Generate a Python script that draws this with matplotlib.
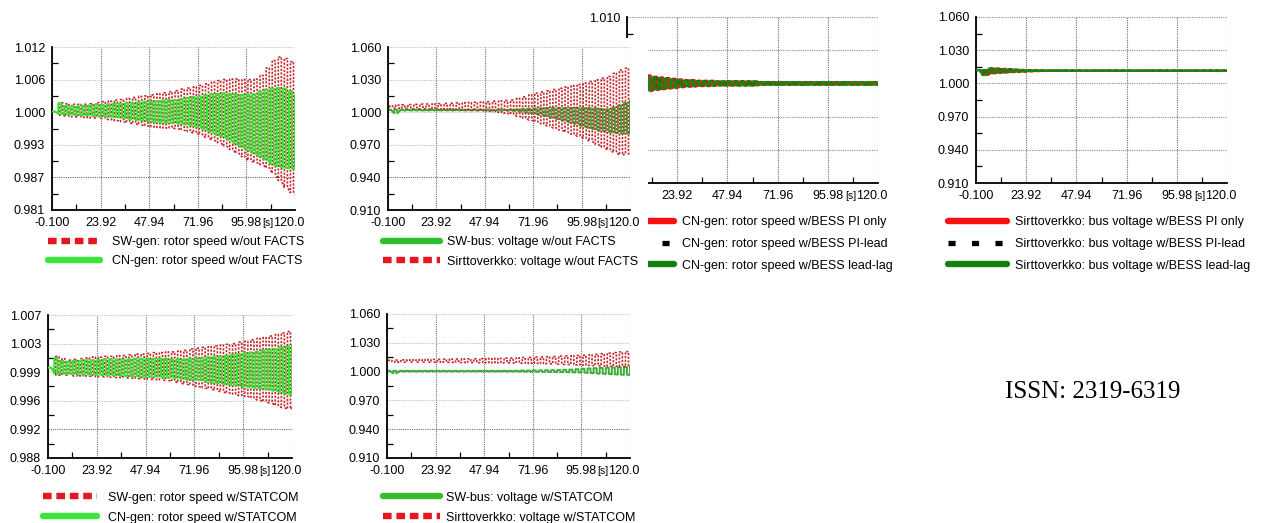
import numpy as np
import matplotlib
matplotlib.use("Agg")
import matplotlib.pyplot as plt
from matplotlib.lines import Line2D
from matplotlib.ticker import AutoMinorLocator
import matplotlib.transforms as mtrans

W, H = 1270, 523
plt.rcParams['font.family'] = ['Liberation Sans', 'DejaVu Sans']

# ---------------------------------------------------------------- data
# times (s) of the oscillation peaks; each trough follows half a cycle later
PEAK_T = np.arange(0, 121, 3.0)
HALF = 1.5
X_TICKS = [-0.1, 23.92, 47.94, 71.96, 95.98, 120.0]
X_LABELS = ['-0.100', '23.92', '47.94', '71.96', '95.98', '120.0']

Y1_LABELS = ['0.981', '0.987', '0.993', '1.000', '1.006', '1.012']
Y2_LABELS = ['0.910', '0.940', '0.970', '1.000', '1.030', '1.060']
Y3_LABELS = ['0.985', '0.990', '0.995', '1.000', '1.005', '1.010']
Y4_LABELS = ['0.910', '0.940', '0.970', '1.000', '1.030', '1.060']
Y5_LABELS = ['0.988', '0.992', '0.996', '0.999', '1.003', '1.007']
Y6_LABELS = ['0.910', '0.940', '0.970', '1.000', '1.030', '1.060']

# Panel 1: rotor speed w/out FACTS (peak / trough envelopes)
P1_SW_UP = [0.9997, 1.0014, 1.0012, 1.0011, 1.0011, 1.0011, 1.0012, 1.0014, 1.0016, 1.0017,
            1.0019, 1.0020, 1.0022, 1.0024, 1.0026, 1.0027, 1.0029, 1.0031, 1.0033, 1.0035,
            1.0037, 1.0040, 1.0042, 1.0044, 1.0047, 1.0050, 1.0053, 1.0056, 1.0058, 1.0059,
            1.0059, 1.0058, 1.0058, 1.0059, 1.0066, 1.0080, 1.0094, 1.0101, 1.0098, 1.0092,
            1.0085]
P1_SW_LO = [0.9997, 0.9990, 0.9988, 0.9987, 0.9987, 0.9986, 0.9985, 0.9985, 0.9984, 0.9982,
            0.9980, 0.9978, 0.9976, 0.9974, 0.9972, 0.9970, 0.9968, 0.9967, 0.9966, 0.9966,
            0.9965, 0.9962, 0.9959, 0.9956, 0.9953, 0.9948, 0.9943, 0.9938, 0.9932, 0.9925,
            0.9918, 0.9911, 0.9904, 0.9900, 0.9896, 0.9890, 0.9880, 0.9866, 0.9853, 0.9843,
            0.9839]
P1_CN_UP = [0.9997, 1.0013, 1.0008, 1.0007, 1.0007, 1.0008, 1.0009, 1.0010, 1.0010, 1.0011,
            1.0012, 1.0012, 1.0013, 1.0014, 1.0015, 1.0016, 1.0016, 1.0017, 1.0018, 1.0019,
            1.0019, 1.0021, 1.0023, 1.0025, 1.0026, 1.0028, 1.0030, 1.0031, 1.0032, 1.0031,
            1.0030, 1.0029, 1.0029, 1.0030, 1.0035, 1.0039, 1.0041, 1.0042, 1.0041, 1.0036,
            1.0029]
P1_CN_LO = [0.9997, 0.9993, 0.9992, 0.9991, 0.9991, 0.9990, 0.9990, 0.9989, 0.9989, 0.9988,
            0.9987, 0.9986, 0.9984, 0.9983, 0.9981, 0.9980, 0.9978, 0.9977, 0.9976, 0.9976,
            0.9975, 0.9974, 0.9972, 0.9970, 0.9967, 0.9963, 0.9958, 0.9953, 0.9949, 0.9943,
            0.9936, 0.9930, 0.9924, 0.9918, 0.9912, 0.9906, 0.9897, 0.9893, 0.9890, 0.9889,
            0.9889]

# Panel 2: bus voltage w/out FACTS
P2_SW_UP = [1.0023, 1.0023, 1.0023, 1.0023, 1.0023, 1.0023, 1.0023, 1.0023, 1.0023, 1.0023,
            1.0023, 1.0023, 1.0023, 1.0023, 1.0023, 1.0023, 1.0023, 1.0023, 1.0023, 1.0023,
            1.0023, 1.0025, 1.0028, 1.0031, 1.0034, 1.0036, 1.0037, 1.0038, 1.0039, 1.0040,
            1.0040, 1.0040, 1.0040, 1.0038, 1.0035, 1.0030, 1.0025, 1.0040, 1.0060, 1.0085,
            1.0110]
P2_SW_LO = [1.0019, 0.9990, 1.0016, 1.0016, 1.0016, 1.0016, 1.0016, 1.0016, 1.0016, 1.0016,
            1.0016, 1.0016, 1.0016, 1.0016, 1.0016, 1.0016, 1.0016, 1.0016, 1.0016, 1.0016,
            1.0014, 1.0010, 1.0003, 0.9995, 0.9985, 0.9975, 0.9963, 0.9950, 0.9935, 0.9920,
            0.9905, 0.9890, 0.9870, 0.9855, 0.9842, 0.9830, 0.9820, 0.9812, 0.9806, 0.9805,
            0.9805]
P2_SI_UP = [1.0058, 1.0066, 1.0068, 1.0070, 1.0072, 1.0074, 1.0075, 1.0077, 1.0079, 1.0081,
            1.0083, 1.0085, 1.0087, 1.0089, 1.0091, 1.0094, 1.0097, 1.0101, 1.0104, 1.0108,
            1.0112, 1.0127, 1.0142, 1.0158, 1.0174, 1.0186, 1.0197, 1.0209, 1.0220, 1.0232,
            1.0244, 1.0255, 1.0267, 1.0282, 1.0297, 1.0313, 1.0328, 1.0358, 1.0388, 1.0404,
            1.0419]
P2_SI_LO = [1.0042, 1.0036, 1.0035, 1.0034, 1.0032, 1.0031, 1.0030, 1.0029, 1.0027, 1.0026,
            1.0024, 1.0023, 1.0021, 1.0019, 1.0017, 1.0015, 1.0012, 1.0006, 0.9998, 0.9990,
            0.9982, 0.9962, 0.9945, 0.9928, 0.9912, 0.9893, 0.9874, 0.9855, 0.9836, 0.9817,
            0.9798, 0.9779, 0.9760, 0.9733, 0.9706, 0.9679, 0.9652, 0.9629, 0.9606, 0.9615,
            0.9625]

# Panel 3: CN-gen rotor speed w/BESS
P3_PI_UP = [1.0000, 1.0014, 1.0013, 1.0012, 1.0010, 1.0009, 1.0008, 1.0007, 1.0006, 1.0005,
            1.0005, 1.0004, 1.0004, 1.0004, 1.0003, 1.0003, 1.0003, 1.0003, 1.0003, 1.0003,
            1.0003] + [1.0002] * 20
P3_PI_LO = [1.0000, 0.9986, 0.9987, 0.9988, 0.9990, 0.9991, 0.9992, 0.9993, 0.9994, 0.9995,
            0.9995, 0.9996, 0.9996, 0.9996, 0.9997, 0.9997, 0.9997, 0.9997, 0.9997, 0.9997,
            0.9997] + [0.9998] * 20
P3_LL_UP = [1.0000, 1.0012, 1.0011, 1.0010, 1.0009, 1.0008, 1.0007, 1.0006, 1.0005, 1.0004,
            1.0004] + [1.0003] * 10 + [1.0002] * 20
P3_LL_LO = [1.0000, 0.9988, 0.9989, 0.9990, 0.9991, 0.9992, 0.9993, 0.9994, 0.9995, 0.9996,
            0.9996] + [0.9997] * 10 + [0.9998] * 20
P3_PL_UP = P3_LL_UP   # PI-lead trace coincides with lead-lag
P3_PL_LO = P3_LL_LO

# Panel 4: Sirttoverkko bus voltage w/BESS
P4_PI_UP = [1.0120, 1.0120, 1.0136, 1.0134, 1.0131, 1.0128, 1.0125, 1.0122, 1.0120, 1.0119,
            1.0118] + [1.0117] * 30
P4_PI_LO = [1.0120, 1.0074, 1.0090, 1.0094, 1.0098, 1.0101, 1.0104, 1.0107, 1.0109, 1.0111,
            1.0112] + [1.0113] * 30
P4_LL_UP = [1.0120, 1.0120, 1.0134, 1.0132, 1.0129, 1.0126, 1.0123, 1.0121, 1.0119, 1.0118,
            1.0117] + [1.0116] * 30
P4_LL_LO = [1.0120, 1.0078, 1.0093, 1.0097, 1.0100, 1.0103, 1.0106, 1.0108, 1.0110, 1.0112,
            1.0113] + [1.0114] * 30
P4_PL_UP = P4_LL_UP
P4_PL_LO = P4_LL_LO

# Panel 5: rotor speed w/STATCOM
P5_SW_UP = [1.0000, 1.0015, 1.0012, 1.0010, 1.0011, 1.0012, 1.0013, 1.0014, 1.0014, 1.0015,
            1.0015, 1.0016, 1.0016, 1.0017, 1.0018, 1.0018, 1.0019, 1.0020, 1.0020, 1.0021,
            1.0021, 1.0022, 1.0023, 1.0025, 1.0026, 1.0027, 1.0028, 1.0029, 1.0030, 1.0031,
            1.0032, 1.0034, 1.0035, 1.0037, 1.0039, 1.0040, 1.0042, 1.0044, 1.0046, 1.0048,
            1.0050]
P5_SW_LO = [1.0000, 0.9990, 0.9990, 0.9990, 0.9989, 0.9989, 0.9989, 0.9988, 0.9988, 0.9988,
            0.9987, 0.9987, 0.9987, 0.9986, 0.9986, 0.9985, 0.9985, 0.9984, 0.9984, 0.9983,
            0.9982, 0.9980, 0.9978, 0.9977, 0.9975, 0.9973, 0.9972, 0.9970, 0.9968, 0.9966,
            0.9965, 0.9963, 0.9962, 0.9960, 0.9957, 0.9955, 0.9953, 0.9950, 0.9947, 0.9945,
            0.9948]
P5_CN_UP = [1.0000, 1.0013, 1.0009, 1.0008, 1.0009, 1.0009, 1.0010, 1.0010, 1.0010, 1.0011,
            1.0011, 1.0011, 1.0011, 1.0011, 1.0012, 1.0012, 1.0012, 1.0012, 1.0012, 1.0012,
            1.0011, 1.0011, 1.0011, 1.0012, 1.0012, 1.0013, 1.0014, 1.0014, 1.0015, 1.0016,
            1.0017, 1.0018, 1.0019, 1.0020, 1.0021, 1.0023, 1.0024, 1.0025, 1.0027, 1.0028,
            1.0030]
P5_CN_LO = [1.0000, 0.9992, 0.9992, 0.9992, 0.9992, 0.9991, 0.9991, 0.9991, 0.9991, 0.9990,
            0.9990, 0.9990, 0.9989, 0.9989, 0.9989, 0.9988, 0.9988, 0.9988, 0.9988, 0.9987,
            0.9987, 0.9986, 0.9985, 0.9984, 0.9984, 0.9983, 0.9981, 0.9980, 0.9979, 0.9978,
            0.9977, 0.9976, 0.9975, 0.9974, 0.9973, 0.9972, 0.9971, 0.9969, 0.9967, 0.9965,
            0.9964]

# Panel 6: bus voltage w/STATCOM
P6_SW_UP = [1.0008] * 20 + [
            1.0008, 1.0009, 1.0010, 1.0011, 1.0012, 1.0013, 1.0014, 1.0015, 1.0016, 1.0018,
            1.0021, 1.0025, 1.0030, 1.0033, 1.0036, 1.0038, 1.0040, 1.0042, 1.0045, 1.0048,
            1.0050]
P6_SW_LO = [1.0002, 0.9982] + [1.0002] * 18 + [
            1.0002, 1.0001, 1.0000, 0.9999, 0.9999, 0.9998, 0.9997, 0.9996, 0.9995, 0.9994,
            0.9993, 0.9991, 0.9990, 0.9986, 0.9982, 0.9978, 0.9975, 0.9972, 0.9969, 0.9967,
            0.9965]
P6_SI_UP = [1.0118, 1.0120, 1.0122, 1.0123, 1.0124, 1.0125, 1.0126, 1.0127, 1.0128, 1.0129,
            1.0130, 1.0131, 1.0132, 1.0133, 1.0134, 1.0135, 1.0136, 1.0137, 1.0138, 1.0140,
            1.0142, 1.0144, 1.0146, 1.0148, 1.0150, 1.0152, 1.0155, 1.0158, 1.0161, 1.0164,
            1.0166, 1.0168, 1.0170, 1.0175, 1.0180, 1.0186, 1.0192, 1.0198, 1.0204, 1.0208,
            1.0205]
P6_SI_LO = [1.0108, 1.0098, 1.0100, 1.0100, 1.0099, 1.0099, 1.0098, 1.0098, 1.0097, 1.0097,
            1.0096, 1.0096, 1.0095, 1.0095, 1.0094, 1.0093, 1.0093, 1.0092, 1.0091, 1.0091,
            1.0090, 1.0089, 1.0088, 1.0087, 1.0086, 1.0084, 1.0082, 1.0080, 1.0078, 1.0075,
            1.0072, 1.0069, 1.0066, 1.0064, 1.0061, 1.0058, 1.0056, 1.0054, 1.0052, 1.0051,
            1.0050]

LEG1 = ['SW-gen: rotor speed w/out FACTS', 'CN-gen: rotor speed w/out FACTS']
LEG2 = ['SW-bus: voltage w/out FACTS', 'Sirttoverkko: voltage w/out FACTS']
LEG3 = ['CN-gen: rotor speed w/BESS PI only', 'CN-gen: rotor speed w/BESS PI-lead',
        'CN-gen: rotor speed w/BESS lead-lag']
LEG4 = ['Sirttoverkko: bus voltage w/BESS PI only', 'Sirttoverkko: bus voltage w/BESS PI-lead',
        'Sirttoverkko: bus voltage w/BESS lead-lag']
LEG5 = ['SW-gen: rotor speed w/STATCOM', 'CN-gen: rotor speed w/STATCOM']
LEG6 = ['SW-bus: voltage w/STATCOM', 'Sirttoverkko: voltage w/STATCOM']

# ---------------------------------------------------------------- styles
RED_DOT = dict(color='#c4262b', lw=1.2, ls=(0, (1.3, 0.9)))
LIME = dict(color='#33e433', lw=1.4)
MGREEN = dict(color='#3aad3a', lw=1.4)
RED_SOL = dict(color='#ff1414', lw=1.6)
BLK_SOL = dict(color='black', lw=1.4, ls=(0, (2, 2)))
DGREEN = dict(color='#128a12', lw=1.6)

H_RED_SQ = dict(color='#e3171d', lw=4.6, ls=(0, (1.35, 0.75)), dash_capstyle='butt')
H_LIME = dict(color='#3ae63a', lw=4.6, solid_capstyle='round')
H_MGREEN = dict(color='#2fbf2f', lw=4.6, solid_capstyle='round')
H_RED = dict(color='#ff1010', lw=4.6, solid_capstyle='round')
H_BLK_SQ = dict(color='black', lw=3.8, ls=(0, (1.35, 3.1)), dash_capstyle='butt')
H_DGREEN = dict(color='#118011', lw=4.6, solid_capstyle='round')

TICK_FS = 9
fig = plt.figure(figsize=(W / 100, H / 100), dpi=100)
fig.patch.set_facecolor('white')


def oscillation(ax, upper, lower, phase, style, z):
    """Dense oscillation: a rise to each peak and a fall to each trough."""
    t = np.asarray(PEAK_T) + phase
    x = np.column_stack([t, t, t + HALF, t + HALF]).ravel()
    y = np.column_stack([lower, upper, upper, lower]).ravel()
    ax.plot(x, y, zorder=z, **style)


def setup(rect, ylim, ylabels, z, dark_row=True):
    l, t, r, b = rect
    ax = fig.add_axes([l / W, 1 - b / H, (r - l) / W, (b - t) / H], zorder=z)
    ax.set_facecolor('white')
    ax.set_xlim(X_TICKS[0], X_TICKS[-1])
    ax.set_ylim(ylim[0], ylim[1])
    ax.set_xticks(X_TICKS, X_LABELS)
    ax.set_yticks(np.linspace(ylim[0], ylim[1], 6), ylabels)
    ax.xaxis.set_minor_locator(AutoMinorLocator(2))
    ax.yaxis.set_minor_locator(AutoMinorLocator(2))
    ax.tick_params(which='major', length=0, labelsize=TICK_FS, pad=5)
    ax.tick_params(which='minor', direction='in', length=4, width=0.9)
    for s in ('top', 'right'):
        ax.spines[s].set_visible(False)
    for s in ('left', 'bottom'):
        ax.spines[s].set_linewidth(1.3)
    ax.grid(True, which='major', ls=(0, (1, 1)), lw=0.8)
    ax.set_axisbelow(True)
    for g in ax.xaxis.get_gridlines():
        g.set_color('#6e6e6e')
    for i, g in enumerate(ax.yaxis.get_gridlines()):
        if dark_row:
            g.set_color('#6e6e6e' if i == 1 else '#c2c2c2')
        else:
            g.set_color('#8e8e8e')
    lbl = ax.xaxis.get_majorticklabels()[-1]
    lbl.set_transform(lbl.get_transform() +
                      mtrans.ScaledTranslation(-0.065, 0, fig.dpi_scale_trans))
    ax.annotate('[s]', xy=(X_TICKS[-1], 0), xycoords=('data', 'axes fraction'),
                xytext=(-27.5 * 0.72, -5.5), textcoords='offset points',
                ha='center', va='top', fontsize=7.5)
    return ax


def legend(ax, styles, labels, hx, y1, tx, dy, hl_px):
    fspx = 9 * 100 / 72
    rowh = 13.0
    handles = [Line2D([], [], **s) for s in styles]
    ax.legend(handles, labels, loc='upper left',
              bbox_to_anchor=(hx / W, 1 - (y1 + 3 - rowh / 2) / H),
              bbox_transform=fig.transFigure, frameon=False, fontsize=9,
              handlelength=hl_px / fspx, handleheight=0.7,
              handletextpad=(tx - hx - hl_px) / fspx,
              labelspacing=(dy + 1 - rowh) / fspx, borderpad=0, borderaxespad=0)


# Panel 3 (partly hidden behind panel 2)
ax3 = setup((627, 17, 878, 183), (0.985, 1.010), Y3_LABELS, 1, dark_row=False)
oscillation(ax3, P3_PI_UP, P3_PI_LO, 0.75, RED_SOL, 2)
oscillation(ax3, P3_PL_UP, P3_PL_LO, 0.0, BLK_SOL, 3)
oscillation(ax3, P3_LL_UP, P3_LL_LO, 0.0, DGREEN, 4)
legend(ax3, [H_RED, H_BLK_SQ, H_DGREEN], LEG3, 615, 220, 682, 21.5, 59)

# white cover of the panel-2 picture over panel 3
cover = fig.add_axes([340 / W, 1 - 282 / H, (648 - 340) / W, (282 - 38) / H], zorder=2)
cover.set_xticks([])
cover.set_yticks([])
for s in cover.spines.values():
    s.set_visible(False)
cover.set_facecolor('white')

# Panel 1
ax1 = setup((52, 47, 295, 210), (0.981, 1.012), Y1_LABELS, 3)
oscillation(ax1, P1_SW_UP, P1_SW_LO, 0.75, RED_DOT, 2)
oscillation(ax1, P1_CN_UP, P1_CN_LO, 0.0, LIME, 3)
legend(ax1, [H_RED_SQ, H_LIME], LEG1, 48, 240, 112, 18.5, 52)

# Panel 2
ax2 = setup((388, 47, 630, 210), (0.910, 1.060), Y2_LABELS, 3)
oscillation(ax2, P2_SW_UP, P2_SW_LO, 0.0, MGREEN, 2)
oscillation(ax2, P2_SI_UP, P2_SI_LO, 0.75, RED_DOT, 3)
legend(ax2, [H_MGREEN, H_RED_SQ], LEG2, 383, 240, 447, 19, 57)

# Panel 4
ax4 = setup((976, 17, 1227, 183), (0.910, 1.060), Y4_LABELS, 3, dark_row=False)
oscillation(ax4, P4_PI_UP, P4_PI_LO, 0.75, RED_SOL, 2)
oscillation(ax4, P4_PL_UP, P4_PL_LO, 0.0, BLK_SOL, 3)
oscillation(ax4, P4_LL_UP, P4_LL_LO, 0.0, DGREEN, 4)
legend(ax4, [H_RED, H_BLK_SQ, H_DGREEN], LEG4, 948, 220, 1015, 21.5, 59)

# Panel 5
ax5 = setup((48, 315, 292, 458), (0.988, 1.007), Y5_LABELS, 3)
oscillation(ax5, P5_SW_UP, P5_SW_LO, 0.75, RED_DOT, 2)
oscillation(ax5, P5_CN_UP, P5_CN_LO, 0.0, LIME, 3)
legend(ax5, [H_RED_SQ, H_LIME], LEG5, 43, 495, 108, 20, 54)

# Panel 6
ax6 = setup((387, 314, 630, 458), (0.910, 1.060), Y6_LABELS, 3)
oscillation(ax6, P6_SW_UP, P6_SW_LO, 0.0, MGREEN, 2)
oscillation(ax6, P6_SI_UP, P6_SI_LO, 0.75, RED_DOT, 3)
legend(ax6, [H_MGREEN, H_RED_SQ], LEG6, 383, 495, 446, 20, 57)

fig.text(1005 / W, 1 - 392 / H, 'ISSN: 2319-6319', family=['Liberation Serif', 'DejaVu Serif'],
         fontsize=18, ha='left', va='center')

fig.savefig('out.png', dpi=100, facecolor='white')
